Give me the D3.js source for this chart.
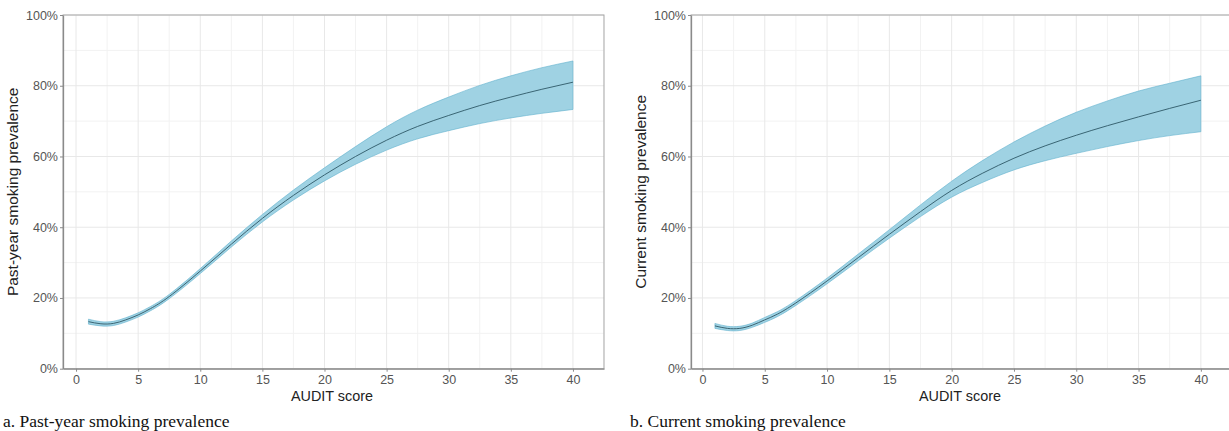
<!DOCTYPE html>
<html>
<head>
<meta charset="utf-8">
<script src="https://cdn.jsdelivr.net/npm/d3@7"></script>
<style>
  html, body { margin: 0; padding: 0; background: #fff; }
  svg { display: block; }
</style>
</head>
<body>
<svg id="chart" width="1229" height="431"></svg>
<script>
// ---- Data ----
const auditScores = [1, 2, 3, 4, 5, 6, 7.5, 10, 12.5, 15, 17.5, 20, 22.5, 25, 27.5, 30, 32.5, 35, 37.5, 40];

const pastYearFit   = [13.3, 12.7, 12.8, 13.8, 15.2, 17.0, 20.4, 27.6, 35.2, 42.5, 49.0, 54.8, 60.0, 64.6, 68.5, 71.6, 74.4, 76.8, 79.0, 81.0];
const pastYearLower = [12.6, 12.1, 12.2, 13.2, 14.6, 16.4, 19.8, 26.9, 34.4, 41.5, 47.7, 53.1, 57.8, 61.8, 65.0, 67.3, 69.3, 70.9, 72.2, 73.3];
const pastYearUpper = [14.0, 13.3, 13.4, 14.4, 15.8, 17.6, 21.0, 28.3, 36.1, 43.6, 50.5, 56.8, 62.8, 68.4, 73.1, 76.8, 80.1, 82.8, 85.1, 87.0];

const currentFit   = [12.1, 11.4, 11.4, 12.3, 13.8, 15.4, 18.6, 24.8, 31.4, 38.0, 44.4, 50.4, 55.3, 59.5, 63.0, 66.0, 68.7, 71.2, 73.6, 75.9];
const currentLower = [11.4, 10.8, 10.8, 11.7, 13.1, 14.7, 17.9, 24.0, 30.5, 36.9, 43.0, 48.5, 52.7, 56.2, 58.8, 60.9, 62.8, 64.5, 65.9, 67.0];
const currentUpper = [12.8, 12.0, 12.0, 12.9, 14.5, 16.1, 19.3, 25.6, 32.4, 39.3, 46.3, 53.0, 58.9, 64.1, 68.6, 72.5, 75.7, 78.5, 80.7, 82.8];

const xTicks = [0, 5, 10, 15, 20, 25, 30, 35, 40];
const xMinorTicks = [2.5, 7.5, 12.5, 17.5, 22.5, 27.5, 32.5, 37.5, 42.5];
const yTicks = [0, 20, 40, 60, 80, 100];
const yMinorTicks = [10, 30, 50, 70, 90];

const xTitle = "AUDIT score";
const panels = [
  { yTitle: "Past-year smoking prevalence", caption: "a. Past-year smoking prevalence",
    fit: pastYearFit, lower: pastYearLower, upper: pastYearUpper,
    left: 63, right: 604, xDomain: [-1.05, 42.5], yTitleX: 18, captionX: 3, xTitleX: 332 },
  { yTitle: "Current smoking prevalence", caption: "b. Current smoking prevalence",
    fit: currentFit, lower: currentLower, upper: currentUpper,
    left: 691, right: 1232, xDomain: [-0.92, 42.5], yTitleX: 646, captionX: 630, xTitleX: 960 }
];

const plotTop = 15, plotBottom = 368.7;
const svg = d3.select("#chart");

panels.forEach(p => {
  const x = d3.scaleLinear().domain(p.xDomain).range([p.left, p.right]);
  const y = d3.scaleLinear().domain([0, 100]).range([plotBottom, plotTop]);
  const g = svg.append("g");

  const clipId = "clip" + p.left;
  svg.append("clipPath").attr("id", clipId)
    .append("rect").attr("x", p.left).attr("y", plotTop)
    .attr("width", p.right - p.left).attr("height", plotBottom - plotTop);

  // minor grid
  g.selectAll(".vminor").data(xMinorTicks).join("line")
    .attr("x1", d => x(d)).attr("x2", d => x(d)).attr("y1", plotTop).attr("y2", plotBottom)
    .attr("stroke", "#f2f2f2").attr("stroke-width", 1).attr("clip-path", `url(#${clipId})`);
  g.selectAll(".hminor").data(yMinorTicks).join("line")
    .attr("x1", p.left).attr("x2", p.right).attr("y1", d => y(d)).attr("y2", d => y(d))
    .attr("stroke", "#f2f2f2").attr("stroke-width", 1);
  // major grid
  g.selectAll(".vmajor").data(xTicks).join("line")
    .attr("x1", d => x(d)).attr("x2", d => x(d)).attr("y1", plotTop).attr("y2", plotBottom)
    .attr("stroke", "#e8e8e8").attr("stroke-width", 1);
  g.selectAll(".hmajor").data(yTicks).join("line")
    .attr("x1", p.left).attr("x2", p.right).attr("y1", d => y(d)).attr("y2", d => y(d))
    .attr("stroke", "#e8e8e8").attr("stroke-width", 1);

  const rows = auditScores.map((s, i) => ({ s, fit: p.fit[i], lo: p.lower[i], hi: p.upper[i] }));

  const area = d3.area().curve(d3.curveNatural)
    .x(d => x(d.s)).y0(d => y(d.lo)).y1(d => y(d.hi));
  g.append("path").datum(rows).attr("d", area)
    .attr("fill", "#9fd2e3").attr("stroke", "#5fb0cc").attr("stroke-width", 0.6);

  const line = d3.line().curve(d3.curveNatural).x(d => x(d.s)).y(d => y(d.fit));
  g.append("path").datum(rows).attr("d", line)
    .attr("fill", "none").attr("stroke", "#2e5866").attr("stroke-width", 0.9);

  // panel border
  g.append("rect").attr("x", p.left).attr("y", plotTop)
    .attr("width", p.right - p.left).attr("height", plotBottom - plotTop)
    .attr("fill", "none").attr("stroke", "#a6a6a6").attr("stroke-width", 1);

  // axes
  const xAxis = d3.axisBottom(x).tickValues(xTicks).tickSize(3).tickPadding(3).tickSizeOuter(0);
  const yAxis = d3.axisLeft(y).tickValues(yTicks).tickSize(3).tickPadding(2).tickSizeOuter(0)
    .tickFormat(d => d + "%");

  const gx = g.append("g").attr("transform", `translate(0,${plotBottom})`).call(xAxis);
  const gy = g.append("g").attr("transform", `translate(${p.left},0)`).call(yAxis);
  [gx, gy].forEach(a => {
    a.select(".domain").attr("stroke", "#8a8a8a").attr("stroke-width", 1.3);
    a.selectAll(".tick line").attr("stroke", "#8a8a8a");
    a.selectAll(".tick text").attr("fill", "#555")
      .style("font-family", "'Liberation Sans', Arial, sans-serif").style("font-size", "12.5px");
  });

  // axis titles
  g.append("text").attr("x", p.xTitleX)
    .attr("y", 401).attr("text-anchor", "middle")
    .style("font-family", "'Liberation Sans', Arial, sans-serif").style("font-size", "14.4px")
    .attr("fill", "#222").text(xTitle);
  g.append("text")
    .attr("transform", `translate(${p.yTitleX},${(plotTop + plotBottom) / 2}) rotate(-90)`)
    .attr("text-anchor", "middle")
    .style("font-family", "'Liberation Sans', Arial, sans-serif").style("font-size", "15.5px")
    .attr("fill", "#222").text(p.yTitle);

  // caption
  g.append("text").attr("x", p.captionX).attr("y", 426.5)
    .style("font-family", "'Liberation Serif', 'Times New Roman', serif").style("font-size", "17.5px")
    .attr("fill", "#111").text(p.caption);
});
</script>
</body>
</html>
